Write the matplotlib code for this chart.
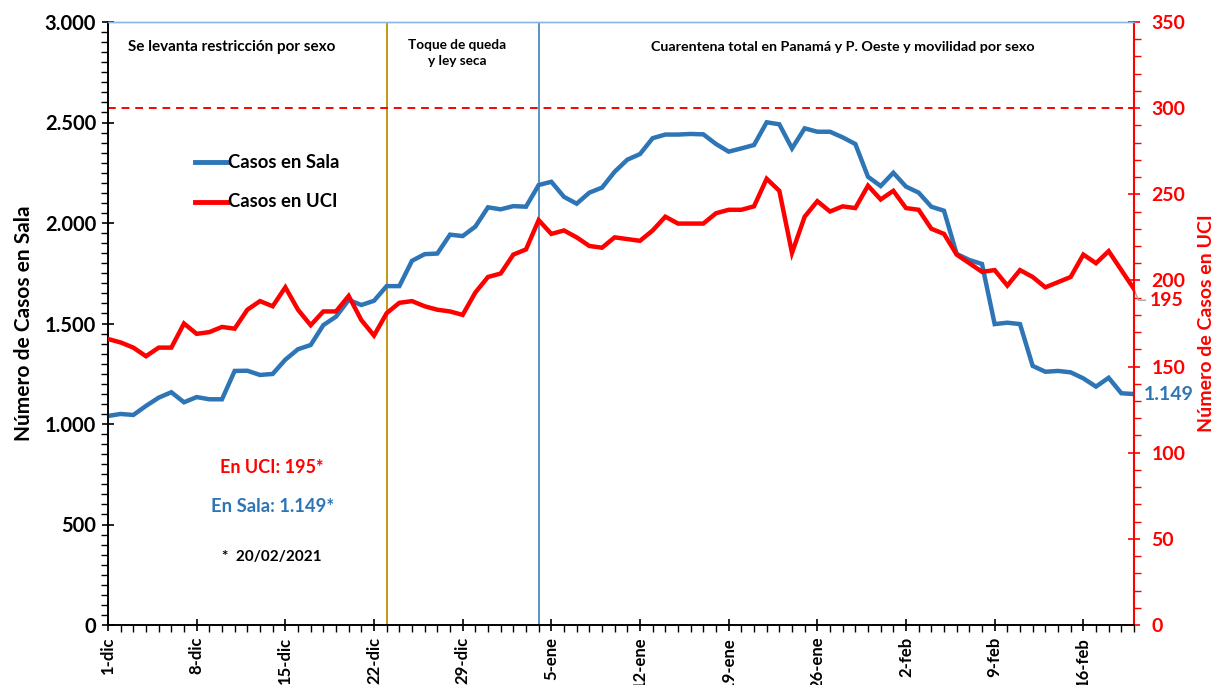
import matplotlib
matplotlib.use("Agg")
import matplotlib.pyplot as plt
from matplotlib.ticker import MultipleLocator, FixedLocator
import numpy as np

plt.rcParams['font.family'] = ['Lato', 'DejaVu Sans']
plt.rcParams['font.weight'] = 'bold'

# ---- data ----
sala = [1040, 1050, 1045, 1090, 1131, 1158, 1108, 1134, 1123, 1123,
        1264, 1265, 1244, 1249, 1320, 1372, 1393, 1492, 1534, 1617,
        1592, 1613, 1686, 1686, 1812, 1845, 1848, 1942, 1935, 1982,
        2078, 2068, 2084, 2081, 2189, 2205, 2130, 2096, 2151, 2176,
        2255, 2315, 2343, 2422, 2440, 2440, 2443, 2441, 2393, 2355,
        2371, 2388, 2501, 2491, 2371, 2471, 2454, 2454, 2426, 2393,
        2230, 2184, 2250, 2181, 2151, 2081, 2061, 1846, 1816, 1796,
        1497, 1504, 1497, 1289, 1260, 1264, 1257, 1227, 1186, 1230,
        1153, 1149]
uci = [166, 164, 161, 156, 161, 161, 175, 169, 170, 173,
       172, 183, 188, 185, 196, 183, 174, 182, 182, 191,
       177, 168, 181, 187, 188, 185, 183, 182, 180, 193,
       202, 204, 215, 218, 235, 227, 229, 225, 220, 219,
       225, 224, 223, 229, 237, 233, 233, 233, 239, 241,
       241, 243, 259, 252, 216, 237, 246, 240, 243, 242,
       255, 247, 252, 242, 241, 230, 227, 215, 210, 205,
       206, 197, 206, 202, 196, 199, 202, 215, 210, 217,
       206, 195]
tick_labels = ['1-dic', '8-dic', '15-dic', '22-dic', '29-dic', '5-ene',
               '12-ene', '19-ene', '26-ene', '2-feb', '9-feb', '16-feb']
tick_days = [0, 7, 14, 21, 28, 35, 42, 49, 56, 63, 70, 77]
event_days = [22, 34]          # 23-dic, 4-ene
uci_capacity = 300
periods = ['Se levanta restricción por sexo', 'Toque de queda\ny ley seca',
           'Cuarentena total en Panamá y P. Oeste y movilidad por sexo']

BLUE = '#2E75B6'
RED = '#FF0000'
GOLD = '#BF8F00'

x = np.arange(len(sala))

fig = plt.figure(figsize=(12.14, 6.85), dpi=100)
ax = fig.add_axes([108/1214, 60/685, (1134-108)/1214, (625-22)/685])
ax2 = ax.twinx()

ax.plot(x, sala, color=BLUE, lw=3.2, solid_joinstyle='miter', zorder=3)
ax2.plot(x, uci, color=RED, lw=3.2, solid_joinstyle='miter', zorder=3)
ax2.axhline(uci_capacity, color=RED, lw=1.4, ls=(0, (4, 3)))
ax.axvline(event_days[0], color=GOLD, lw=1.3)
ax.axvline(event_days[1], color=BLUE, lw=1.1)

ax.set_xlim(0, len(sala) - 1)
ax.set_ylim(0, 3000)
ax2.set_ylim(0, 350)

# left axis
ax.yaxis.set_minor_locator(MultipleLocator(50))
ax.set_yticks(np.arange(0, 3001, 500))
ax.set_yticklabels([f'{int(v):,}'.replace(',', '.') for v in np.arange(0, 3001, 500)])
ax.tick_params(axis='y', which='major', direction='inout', length=9, width=1.2,
               labelsize=14.5, pad=4)
ax.tick_params(axis='y', which='minor', direction='out', length=5, width=1.0)

# x axis
ax.xaxis.set_major_locator(FixedLocator(tick_days))
ax.xaxis.set_minor_locator(MultipleLocator(1))
ax.set_xticklabels(tick_labels, rotation=90, fontsize=12)
ax.tick_params(axis='x', which='major', direction='inout', length=9, width=1.2, pad=4)
ax.tick_params(axis='x', which='minor', direction='out', length=5, width=1.0)

# right axis
ax2.yaxis.set_major_locator(MultipleLocator(50))
ax2.yaxis.set_minor_locator(MultipleLocator(10))
ax2.tick_params(axis='y', which='major', direction='inout', length=9, width=1.2,
                labelsize=14, colors=RED, pad=8)
ax2.tick_params(axis='y', which='minor', direction='out', length=5, width=1.0, colors=RED)
for lbl in ax2.get_yticklabels():
    lbl.set_fontweight('bold')
for lbl in ax.get_yticklabels() + ax.get_xticklabels():
    lbl.set_fontweight('bold')

for a in (ax, ax2):
    a.spines['top'].set_color('#8EB4E3')
    a.spines['top'].set_linewidth(1.0)
    a.spines['left'].set_linewidth(1.2)
    a.spines['bottom'].set_linewidth(1.2)
ax2.spines['right'].set_color(RED)
ax2.spines['right'].set_linewidth(1.5)
ax.spines['right'].set_visible(False)

ax.set_ylabel('Número de Casos en Sala', fontsize=15, fontweight='bold', labelpad=8)
ax2.set_ylabel('Número de Casos en UCI', fontsize=14, fontweight='bold', color=RED,
               labelpad=9)

# period texts
ax.text(0.121, 0.958, periods[0], transform=ax.transAxes, ha='center', va='center',
        fontsize=11, fontweight='bold')
ax.text(0.340, 0.948, periods[1], transform=ax.transAxes, ha='center', va='center',
        fontsize=9.8, fontweight='bold', linespacing=1.4)
ax.text(0.716, 0.958, periods[2], transform=ax.transAxes, ha='center', va='center',
        fontsize=10.3, fontweight='bold')

# legend
lx0, lx1 = 0.085, 0.116
for yy, col, name in [(0.767, BLUE, 'Casos en Sala'), (0.702, RED, 'Casos en UCI')]:
    ax.plot([lx0, lx1], [yy, yy], transform=ax.transAxes, color=col, lw=3.5, clip_on=False)
    ax.text(lx1 + 0.001, yy, name, transform=ax.transAxes, ha='left', va='center',
            fontsize=13.3, fontweight='bold')

# annotations
ax.text(0.160, 0.262, f'En UCI: {uci[-1]}*', transform=ax.transAxes, ha='center',
        va='center', fontsize=13, fontweight='bold', color=RED)
ax.text(0.160, 0.197, 'En Sala: 1.149*', transform=ax.transAxes, ha='center',
        va='center', fontsize=13.3, fontweight='bold', color=BLUE)
ax.text(0.160, 0.113, '*  20/02/2021', transform=ax.transAxes, ha='center',
        va='center', fontsize=11, fontweight='bold', color='black')

# end labels
ax2.plot([x[-1], x[-1] + 0.35, x[-1] + 0.9], [uci[-1], uci[-1] - 6.5, uci[-1] - 6.5],
         color='#A6A6A6', lw=1, clip_on=False)
ax2.text(x[-1] + 1.25, uci[-1] - 6.5, f'{uci[-1]}', ha='left', va='center',
         fontsize=14, fontweight='bold', color=RED, clip_on=False)
ax.text(x[-1] + 0.8, sala[-1], f'{sala[-1]:,}'.replace(',', '.'), ha='left',
        va='center', fontsize=14, fontweight='bold', color=BLUE, clip_on=False)

fig.savefig('out.png', dpi=100)
